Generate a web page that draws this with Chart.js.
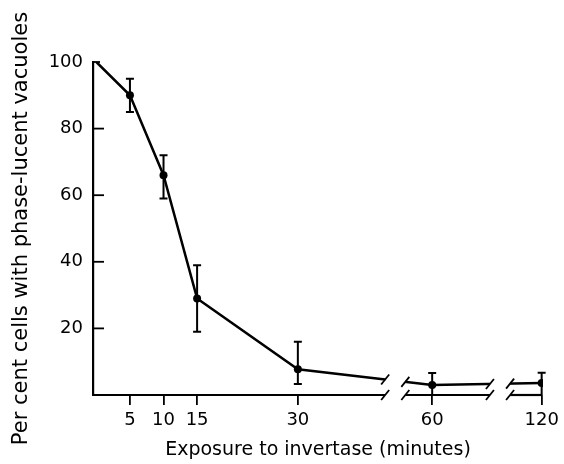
<!DOCTYPE html>
<html>
<head>
<meta charset="utf-8">
<script src="https://cdn.jsdelivr.net/npm/chart.js@4.4.1/dist/chart.umd.min.js"></script>
<style>
  html, body { margin: 0; padding: 0; background: #fff; }
</style>
</head>
<body>
<canvas id="chart" width="564" height="464"></canvas>
<script>
// values
var minutes = [0, 5, 10, 15, 30, 60, 120];
var percentCells = [100, 90, 66, 29, 7.7, 3.0, 3.6];
var errUpper = [null, 95, 72, 39, 16, 6.6, 6.7];
var errLower = [null, 85, 59, 19, 3.3, 0, 0];
var xTickMinutes = [5, 10, 15, 30, 60, 120];

// broken time axis: each piece keeps the same scale, gaps are cut out
var axisBreaks = [
  { from: 0, to: 43, shift: 0 },
  { from: 56, to: 68.6, shift: 10 },
  { from: 115.3, to: 120, shift: 53.7 }
];

function toPos(m) {
  for (var i = 0; i < axisBreaks.length; i++) {
    if (m <= axisBreaks[i].to) return m - axisBreaks[i].shift;
  }
  return m - axisBreaks[axisBreaks.length - 1].shift;
}

var FONT = "'DejaVu Sans', sans-serif";

function slash(ctx, x, y) {
  ctx.beginPath();
  ctx.moveTo(x - 4, y + 5);
  ctx.lineTo(x + 4, y - 5);
  ctx.stroke();
}

function lineYAt(chart, px) {
  var pts = chart.getDatasetMeta(0).data;
  for (var i = 0; i < pts.length - 1; i++) {
    if (px >= pts[i].x && px <= pts[i + 1].x) {
      var t = (px - pts[i].x) / (pts[i + 1].x - pts[i].x);
      return pts[i].y + t * (pts[i + 1].y - pts[i].y);
    }
  }
  return pts[pts.length - 1].y;
}

function segPixels(chart) {
  var xs = chart.scales.x, area = chart.chartArea;
  return axisBreaks.map(function(s, i) {
    return {
      l: i === 0 ? area.left : xs.getPixelForValue(s.from - s.shift),
      r: xs.getPixelForValue(s.to - s.shift)
    };
  });
}

var breakPlugin = {
  id: 'breaks',
  beforeDatasetDraw: function(chart) {
    var ctx = chart.ctx;
    var segs = segPixels(chart);
    ctx.save();
    ctx.beginPath();
    segs.forEach(function(s, i) {
      var l = i === 0 ? 0 : s.l;
      var r = i === segs.length - 1 ? chart.width : s.r;
      ctx.rect(l, 0, r - l, chart.height);
    });
    ctx.clip();
  },
  afterDatasetDraw: function(chart) {
    chart.ctx.restore();
  },
  afterDraw: function(chart) {
    var ctx = chart.ctx, xs = chart.scales.x, ys = chart.scales.y, area = chart.chartArea;
    var segs = segPixels(chart);
    var y0 = ys.getPixelForValue(0);
    ctx.save();
    ctx.strokeStyle = '#000';
    ctx.lineCap = 'butt';

    // broken x axis
    ctx.lineWidth = 2.2;
    segs.forEach(function(s) {
      ctx.beginPath();
      ctx.moveTo(s.l, y0);
      ctx.lineTo(s.r, y0);
      ctx.stroke();
    });
    ctx.lineWidth = 1.8;
    segs.forEach(function(s, i) {
      if (i > 0) { slash(ctx, s.l, y0); slash(ctx, s.l, lineYAt(chart, s.l)); }
      if (i < segs.length - 1) { slash(ctx, s.r, y0); slash(ctx, s.r, lineYAt(chart, s.r)); }
    });

    // inward y ticks
    ctx.lineWidth = 1.8;
    ys.ticks.forEach(function(t) {
      if (t.value === 0) return;
      var py = ys.getPixelForValue(t.value);
      var len = t.value === 100 ? 7 : 11;
      ctx.beginPath();
      ctx.moveTo(area.left, py);
      ctx.lineTo(area.left + len, py);
      ctx.stroke();
    });

    // error bars
    ctx.lineWidth = 2;
    minutes.forEach(function(m, i) {
      if (errUpper[i] === null) return;
      var px = xs.getPixelForValue(toPos(m));
      var top = ys.getPixelForValue(errUpper[i]);
      var bot = ys.getPixelForValue(errLower[i]);
      ctx.beginPath();
      ctx.moveTo(px, top);
      ctx.lineTo(px, bot);
      ctx.moveTo(px - 4, top);
      ctx.lineTo(px + 4, top);
      if (errLower[i] > 0) {
        ctx.moveTo(px - 4, bot);
        ctx.lineTo(px + 4, bot);
      }
      ctx.stroke();
    });
    ctx.restore();
  }
};

var ctx = document.getElementById('chart').getContext('2d');
var chart = new Chart(ctx, {
  type: 'line',
  data: {
    datasets: [{
      data: minutes.map(function(m, i) { return { x: toPos(m), y: percentCells[i] }; }),
      borderColor: '#000',
      borderWidth: 2.5,
      tension: 0,
      pointRadius: minutes.map(function(m) { return m === 0 ? 0 : 4; }),
      pointBackgroundColor: '#000',
      pointBorderColor: '#000',
      pointBorderWidth: 0
    }]
  },
  options: {
    responsive: false,
    animation: false,
    events: [],
    layout: { padding: { top: 62, right: 21, bottom: 0, left: 0 } },
    plugins: { legend: { display: false }, tooltip: { enabled: false } },
    scales: {
      x: {
        type: 'linear',
        min: -0.5,
        max: 66.5,
        afterFit: function(s) { s.height = 69; },
        afterBuildTicks: function(s) {
          s.ticks = xTickMinutes.map(function(m) { return { value: toPos(m) }; });
        },
        border: { display: false },
        grid: {
          display: true,
          drawOnChartArea: false,
          drawTicks: true,
          tickLength: 10,
          color: '#000',
          lineWidth: 1.8
        },
        ticks: {
          autoSkip: false,
          maxRotation: 0,
          padding: 5,
          color: '#000',
          font: { family: FONT, size: 18 },
          callback: function(v, i) { return String(xTickMinutes[i]); }
        },
        title: {
          display: true,
          text: 'Exposure to invertase (minutes)',
          color: '#000',
          font: { family: FONT, size: 19 },
          padding: { top: 0, bottom: 3 }
        }
      },
      y: {
        min: 0,
        max: 100,
        afterFit: function(s) { s.width = 93; },
        border: { display: true, color: '#000', width: 2.2 },
        grid: { display: false, drawTicks: false },
        ticks: {
          stepSize: 20,
          padding: 10,
          color: '#000',
          font: { family: FONT, size: 18 },
          callback: function(v) { return v === 0 ? '' : v; }
        },
        title: {
          display: true,
          text: 'Per cent cells with phase-lucent vacuoles',
          color: '#000',
          font: { family: FONT, size: 21 },
          padding: { top: 9, bottom: 0 }
        }
      }
    }
  },
  plugins: [breakPlugin]
});
</script>
</body>
</html>
